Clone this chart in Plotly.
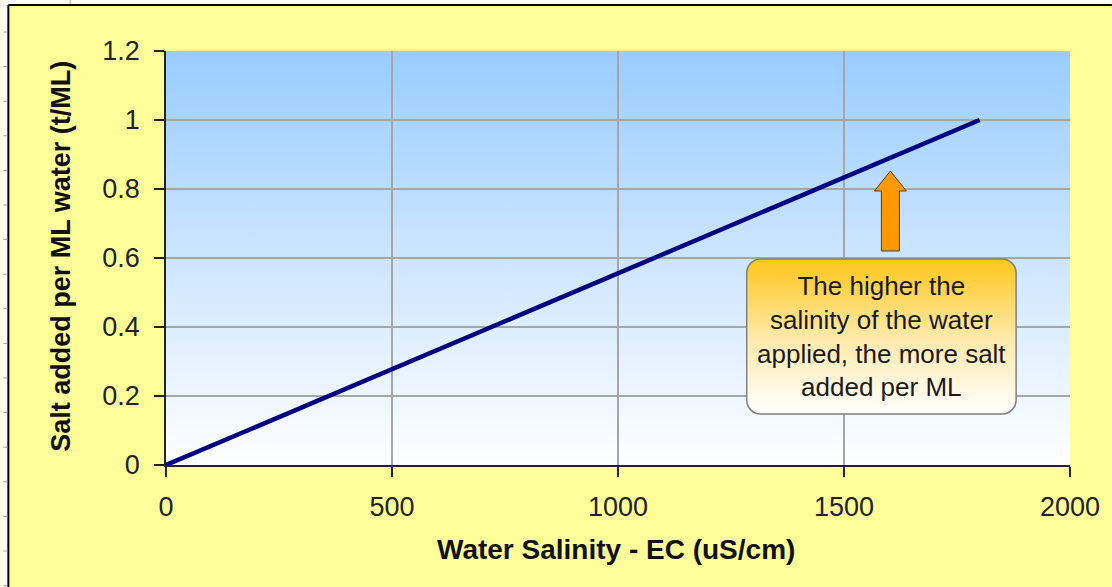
import base64
import plotly.graph_objects as go

# ---- data ----
salinity_ec = [0, 1800]          # Water Salinity - EC (uS/cm)
salt_added = [0, 1.0]            # Salt added per ML water (t/ML)
x_ticks = [0, 500, 1000, 1500, 2000]
y_ticks = [0, 0.2, 0.4, 0.6, 0.8, 1.0, 1.2]
y_tick_labels = ["0", "0.2", "0.4", "0.6", "0.8", "1", "1.2"]
callout_text = "The higher the<br>salinity of the water<br>applied, the more salt<br>added per ML"

# ---- layout geometry (pixels) ----
W, H = 1112, 587
L, R, T, B = 166, 40, 51, 122
PW, PH = W - L - R, H - T - B


def px(x):
    return (x - L) / PW


def py(y):
    return (H - B - y) / PH


def svg_uri(svg):
    return "data:image/svg+xml;base64," + base64.b64encode(svg.encode()).decode()


bg_svg = (
    '<svg xmlns="http://www.w3.org/2000/svg" width="100" height="100" viewBox="0 0 100 100" preserveAspectRatio="none">'
    '<defs><linearGradient id="g" x1="0" y1="0" x2="0" y2="1">'
    '<stop offset="0" stop-color="#99CCFF"/><stop offset="1" stop-color="#FFFFFF"/>'
    '</linearGradient></defs><rect x="0" y="0" width="100" height="100" fill="url(#g)"/></svg>'
)

bw, bh = 272, 157
box_svg = (
    f'<svg xmlns="http://www.w3.org/2000/svg" width="{bw}" height="{bh}" viewBox="0 0 {bw} {bh}">'
    '<defs><linearGradient id="o" x1="0" y1="0" x2="0" y2="1">'
    '<stop offset="0" stop-color="#FFC61A"/><stop offset="0.5" stop-color="#FFE9A8"/>'
    '<stop offset="1" stop-color="#FFFFFF"/>'
    '</linearGradient></defs>'
    f'<rect x="1" y="1" width="{bw-2}" height="{bh-2}" rx="14" ry="14" fill="url(#o)" stroke="#7F7F7F" stroke-width="1.5"/></svg>'
)

aw, ah = 34, 82
arrow_svg = (
    f'<svg xmlns="http://www.w3.org/2000/svg" width="{aw}" height="{ah}" viewBox="0 0 {aw} {ah}">'
    '<path d="M17,1 L33,21 L26,21 L26,81 L8,81 L8,21 L1,21 Z" fill="#FF9900" stroke="#404040" stroke-width="1"/></svg>'
)

fig = go.Figure()
fig.add_trace(go.Scatter(
    x=salinity_ec, y=salt_added, mode="lines",
    line=dict(color="#000080", width=4.5), showlegend=False, hoverinfo="skip",
))

font_family = "Arial, Liberation Sans, sans-serif"

images = [
    dict(source=svg_uri(bg_svg), xref="paper", yref="paper", x=0, y=1, sizex=1, sizey=1,
         xanchor="left", yanchor="top", sizing="stretch", layer="below"),
    dict(source=svg_uri(arrow_svg), xref="paper", yref="paper", x=px(875), y=py(170),
         sizex=aw / PW, sizey=ah / PH, xanchor="left", yanchor="top", sizing="stretch", layer="above"),
    dict(source=svg_uri(box_svg), xref="paper", yref="paper", x=px(747), y=py(258),
         sizex=bw / PW, sizey=bh / PH, xanchor="left", yanchor="top", sizing="stretch", layer="above"),
]

shapes = [
    dict(type="rect", xref="paper", yref="paper", x0=px(0), x1=px(8), y0=py(H + 2), y1=py(0),
         fillcolor="white", line=dict(width=0), layer="below"),
    dict(type="rect", xref="paper", yref="paper", x0=px(0), x1=px(W + 2), y0=py(5), y1=py(0),
         fillcolor="white", line=dict(width=0), layer="below"),
    dict(type="line", xref="paper", yref="paper", x0=px(8), x1=px(8), y0=py(5), y1=py(H + 2),
         line=dict(color="black", width=2)),
    dict(type="line", xref="paper", yref="paper", x0=px(8), x1=px(W + 2), y0=py(5), y1=py(5),
         line=dict(color="black", width=2)),
]
# small ruler marks in the outer margin
yy = 32.0
while yy < H:
    shapes.append(dict(type="line", xref="paper", yref="paper", x0=px(3), x1=px(7), y0=py(yy), y1=py(yy),
                       line=dict(color="#A0A0A0", width=1)))
    yy += 34.6
shapes.append(dict(type="line", xref="paper", yref="paper", x0=px(70), x1=px(70), y0=py(0), y1=py(4),
                   line=dict(color="#A0A0A0", width=1)))

annotations = [
    dict(text=callout_text, xref="paper", yref="paper", x=px(883), y=py(336.5), showarrow=False,
         xanchor="center", yanchor="middle", align="center",
         font=dict(family=font_family, size=26, color="#1a1a1a")),
    dict(text="<b>Water Salinity - EC (uS/cm)</b>", xref="paper", yref="paper", x=px(616.5), y=py(549),
         showarrow=False, xanchor="center", yanchor="middle",
         font=dict(family=font_family, size=28, color="#111111")),
    dict(text="<b>Salt added per ML water (t/ML)</b>", xref="paper", yref="paper", x=px(60.5), y=py(256),
         showarrow=False, xanchor="center", yanchor="middle", textangle=-90,
         font=dict(family=font_family, size=27, color="#111111")),
]

fig.update_layout(
    width=W, height=H,
    margin=dict(l=L, r=R, t=T, b=B, pad=0),
    paper_bgcolor="#FFFF99",
    plot_bgcolor="rgba(0,0,0,0)",
    images=images, shapes=shapes, annotations=annotations,
    showlegend=False,
    xaxis=dict(
        range=[0, 2000], tickvals=x_ticks, showgrid=True, gridcolor="#A6A6A6", gridwidth=1.5,
        zeroline=False, showline=True, linecolor="#222222", linewidth=2,
        ticks="outside", ticklen=10, tickwidth=1.5, tickcolor="#222222",
        ticklabelstandoff=7,
        tickfont=dict(family=font_family, size=27, color="#222222"),
    ),
    yaxis=dict(
        range=[0, 1.2], tickvals=y_ticks, ticktext=y_tick_labels, showgrid=True,
        gridcolor="#A6A6A6", gridwidth=1.5,
        zeroline=False, showline=True, linecolor="#222222", linewidth=1.5,
        ticks="outside", ticklen=10, tickwidth=1.5, tickcolor="#222222",
        ticklabelstandoff=9,
        tickfont=dict(family=font_family, size=27, color="#222222"),
    ),
)

fig.write_html(
    "out.html",
    config={"displayModeBar": False},
    post_script="document.body.style.margin='0';document.body.style.overflow='hidden';",
)
